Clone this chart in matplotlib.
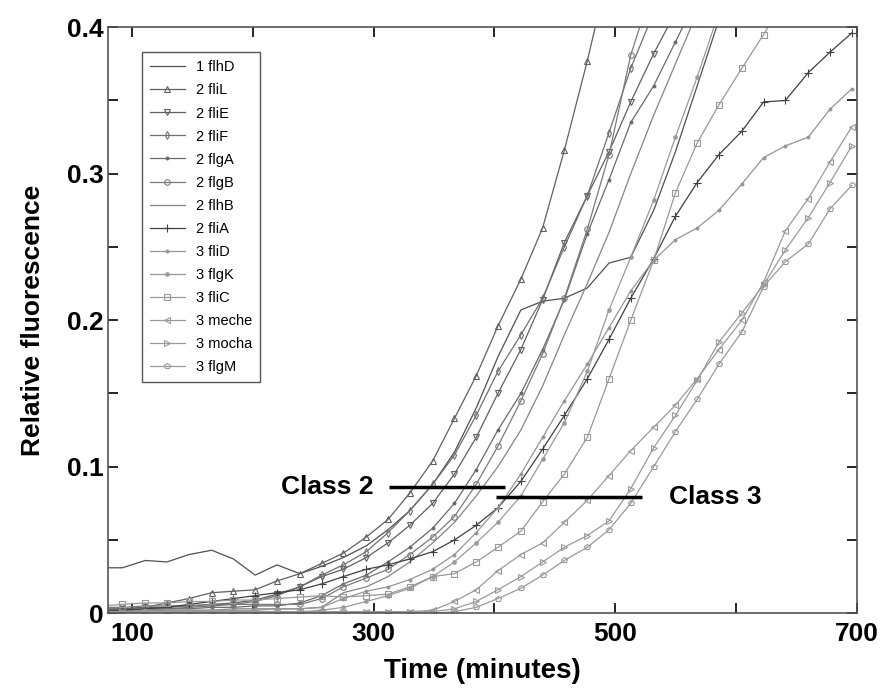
import matplotlib
matplotlib.use("Agg")
import matplotlib.pyplot as plt
from matplotlib.ticker import FixedLocator, FixedFormatter

plt.rcParams['font.family'] = ['Liberation Sans', 'DejaVu Sans']

# sampling times (minutes)
times = [74, 92, 111, 129, 147, 166, 184, 202, 220, 239, 257, 275, 294, 312, 330, 349,
         367, 385, 403, 422, 440, 458, 477, 495, 513, 532, 550, 568, 586, 605, 623, 641,
         660, 678, 696]

flhD = [0.031, 0.031, 0.036, 0.035, 0.040, 0.043, 0.037, 0.026, 0.033, 0.027, 0.032, 0.038,
        0.046, 0.057, 0.070, 0.088, 0.110, 0.140, 0.175, 0.207, 0.213, 0.215, 0.222, 0.239,
        0.243, 0.275, 0.315, 0.360, 0.405]
fliL = [0.002, 0.003, 0.004, 0.007, 0.010, 0.014, 0.015, 0.016, 0.022, 0.027, 0.034, 0.041,
        0.052, 0.064, 0.082, 0.104, 0.133, 0.162, 0.196, 0.228, 0.263, 0.316, 0.377, 0.440]
fliE = [0.003, 0.003, 0.004, 0.004, 0.005, 0.006, 0.007, 0.009, 0.013, 0.018, 0.025, 0.030,
        0.038, 0.048, 0.060, 0.075, 0.095, 0.120, 0.150, 0.180, 0.214, 0.253, 0.285, 0.315,
        0.349, 0.382, 0.410]
fliF = [0.001, 0.002, 0.002, 0.003, 0.004, 0.005, 0.006, 0.008, 0.012, 0.018, 0.026, 0.033,
        0.042, 0.055, 0.070, 0.088, 0.108, 0.135, 0.165, 0.190, 0.215, 0.250, 0.285, 0.328,
        0.372, 0.410]
flgA = [0.002, 0.002, 0.003, 0.003, 0.003, 0.004, 0.004, 0.005, 0.005, 0.007, 0.012, 0.020,
        0.026, 0.035, 0.045, 0.058, 0.075, 0.098, 0.125, 0.150, 0.180, 0.214, 0.259, 0.296,
        0.335, 0.360, 0.390, 0.420]
flgB = [0.004, 0.004, 0.005, 0.005, 0.005, 0.006, 0.006, 0.006, 0.006, 0.006, 0.010, 0.018,
        0.024, 0.030, 0.040, 0.052, 0.066, 0.088, 0.114, 0.145, 0.177, 0.215, 0.262, 0.313,
        0.381, 0.430]
flhB = [0.001, 0.001, 0.002, 0.002, 0.002, 0.002, 0.003, 0.003, 0.003, 0.003, 0.004, 0.014,
        0.018, 0.025, 0.035, 0.048, 0.062, 0.080, 0.100, 0.125, 0.155, 0.190, 0.225, 0.260,
        0.300, 0.340, 0.375, 0.410]
fliA = [0.001, 0.002, 0.003, 0.004, 0.006, 0.008, 0.010, 0.012, 0.014, 0.016, 0.020, 0.025,
        0.030, 0.033, 0.037, 0.042, 0.050, 0.060, 0.072, 0.090, 0.112, 0.135, 0.160, 0.187,
        0.215, 0.242, 0.271, 0.294, 0.313, 0.329, 0.349, 0.350, 0.369, 0.383, 0.396]
fliD = [0.001, 0.001, 0.002, 0.002, 0.002, 0.002, 0.002, 0.002, 0.003, 0.003, 0.004, 0.010,
        0.015, 0.018, 0.023, 0.030, 0.040, 0.055, 0.072, 0.095, 0.120, 0.145, 0.170, 0.195,
        0.220, 0.241, 0.255, 0.263, 0.275, 0.293, 0.311, 0.319, 0.325, 0.344, 0.358]
flgK = [0.000, 0.001, 0.001, 0.001, 0.001, 0.001, 0.001, 0.001, 0.001, 0.001, 0.002, 0.004,
        0.008, 0.012, 0.017, 0.025, 0.035, 0.048, 0.062, 0.080, 0.105, 0.130, 0.165, 0.207,
        0.243, 0.282, 0.325, 0.366, 0.410]
fliC = [0.005, 0.006, 0.007, 0.007, 0.008, 0.008, 0.009, 0.009, 0.010, 0.011, 0.012, 0.011,
        0.012, 0.013, 0.018, 0.025, 0.027, 0.035, 0.045, 0.056, 0.076, 0.095, 0.120, 0.160,
        0.200, 0.241, 0.287, 0.321, 0.347, 0.372, 0.395, 0.420]
meche = [0.000, 0.001, 0.001, 0.001, 0.001, 0.001, 0.001, 0.001, 0.001, 0.001, 0.001, 0.001,
         0.001, 0.001, 0.001, 0.002, 0.008, 0.016, 0.029, 0.040, 0.048, 0.062, 0.077, 0.094,
         0.111, 0.127, 0.142, 0.160, 0.180, 0.200, 0.226, 0.261, 0.283, 0.308, 0.332]
mocha = [0.001, 0.001, 0.001, 0.001, 0.001, 0.001, 0.001, 0.001, 0.001, 0.001, 0.001, 0.001,
         0.001, 0.001, 0.001, 0.001, 0.003, 0.008, 0.016, 0.025, 0.035, 0.045, 0.053, 0.063,
         0.085, 0.113, 0.135, 0.159, 0.185, 0.205, 0.224, 0.248, 0.270, 0.294, 0.319]
flgM = [0.000, 0.000, 0.000, 0.000, 0.000, 0.000, 0.000, 0.000, 0.000, 0.000, 0.000, 0.000,
        0.000, 0.000, 0.000, 0.000, 0.001, 0.004, 0.010, 0.017, 0.026, 0.036, 0.045, 0.057,
        0.075, 0.100, 0.124, 0.146, 0.170, 0.192, 0.223, 0.240, 0.252, 0.276, 0.292]

labels = ['1 flhD', '2 fliL', '2 fliE', '2 fliF', '2 flgA', '2 flgB', '2 flhB', '2 fliA',
          '3 fliD', '3 flgK', '3 fliC', '3 meche', '3 mocha', '3 flgM']
series = [flhD, fliL, fliE, fliF, flgA, flgB, flhB, fliA, fliD, flgK, fliC, meche, mocha, flgM]

styles = [
    dict(color='#505050', marker=None),
    dict(color='#606060', marker='^', ms=4, mfc='none'),
    dict(color='#606060', marker='v', ms=4, mfc='none'),
    dict(color='#707070', marker='d', ms=4, mfc='none'),
    dict(color='#6a6a6a', marker='.', ms=4),
    dict(color='#7a7a7a', marker='o', ms=4, mfc='none'),
    dict(color='#858585', marker=None),
    dict(color='#404040', marker='+', ms=6),
    dict(color='#959595', marker='.', ms=4),
    dict(color='#9a9a9a', marker='o', ms=2.5),
    dict(color='#999999', marker='s', ms=4, mfc='none'),
    dict(color='#9a9a9a', marker='<', ms=4, mfc='none'),
    dict(color='#9a9a9a', marker='>', ms=4, mfc='none'),
    dict(color='#9a9a9a', marker='p', ms=4, mfc='none'),
]

fig = plt.figure(figsize=(8.84, 6.89), dpi=100)
ax = fig.add_axes([0.122, 0.110, 0.847, 0.8505])

for vals, lab, st in zip(series, labels, styles):
    st = dict(st)
    col = st.pop('color')
    mk = st.pop('marker')
    ms = st.pop('ms', 4)
    mfc = st.pop('mfc', col)
    ax.plot(times[:len(vals)], vals, color=col, lw=0.9, marker=mk, ms=ms,
            mfc=mfc, mec=col, mew=0.8, label=lab)

ax.set_xlim(80, 700)
ax.set_ylim(0, 0.4)

ax.xaxis.set_major_locator(FixedLocator([100, 200, 300, 400, 500, 600, 700]))
ax.xaxis.set_major_formatter(FixedFormatter(['100', '', '300', '', '500', '', '700']))
ax.yaxis.set_major_locator(FixedLocator([0, 0.05, 0.1, 0.15, 0.2, 0.25, 0.3, 0.35, 0.4]))
ax.yaxis.set_major_formatter(FixedFormatter(['0', '', '0.1', '', '0.2', '', '0.3', '', '0.4']))
ax.tick_params(direction='in', top=True, right=True, length=7, width=1.2,
               labelsize=19, colors='black')
ax.tick_params(axis='y', pad=3)
ax.tick_params(axis='x', pad=6)
for lbl in ax.get_xticklabels() + ax.get_yticklabels():
    lbl.set_fontweight('bold')
for sp in ax.spines.values():
    sp.set_color('#555555')
    sp.set_linewidth(1.2)

ax.set_xlabel('Time (minutes)', fontsize=20, fontweight='bold', labelpad=9)
ax.set_ylabel('Relative fluorescence', fontsize=19, fontweight='bold', labelpad=16)

# class annotations
ax.plot([313, 409], [0.086, 0.086], color='black', lw=2.5, solid_capstyle='butt')
ax.text(262, 0.086, 'Class 2', fontsize=19, fontweight='bold', ha='center', va='center')
ax.plot([401, 522], [0.079, 0.079], color='black', lw=2.5, solid_capstyle='butt')
ax.text(583, 0.079, 'Class 3', fontsize=19, fontweight='bold', ha='center', va='center')

leg = ax.legend(loc='upper left', bbox_to_anchor=(0.045, 0.957), borderaxespad=0,
                fontsize=10.5, frameon=True, fancybox=False, framealpha=1,
                edgecolor='#555555', handlelength=2.4, labelspacing=0.62,
                borderpad=0.55, handletextpad=0.8)
leg.get_frame().set_linewidth(1.0)

fig.savefig('out.png', dpi=100)
